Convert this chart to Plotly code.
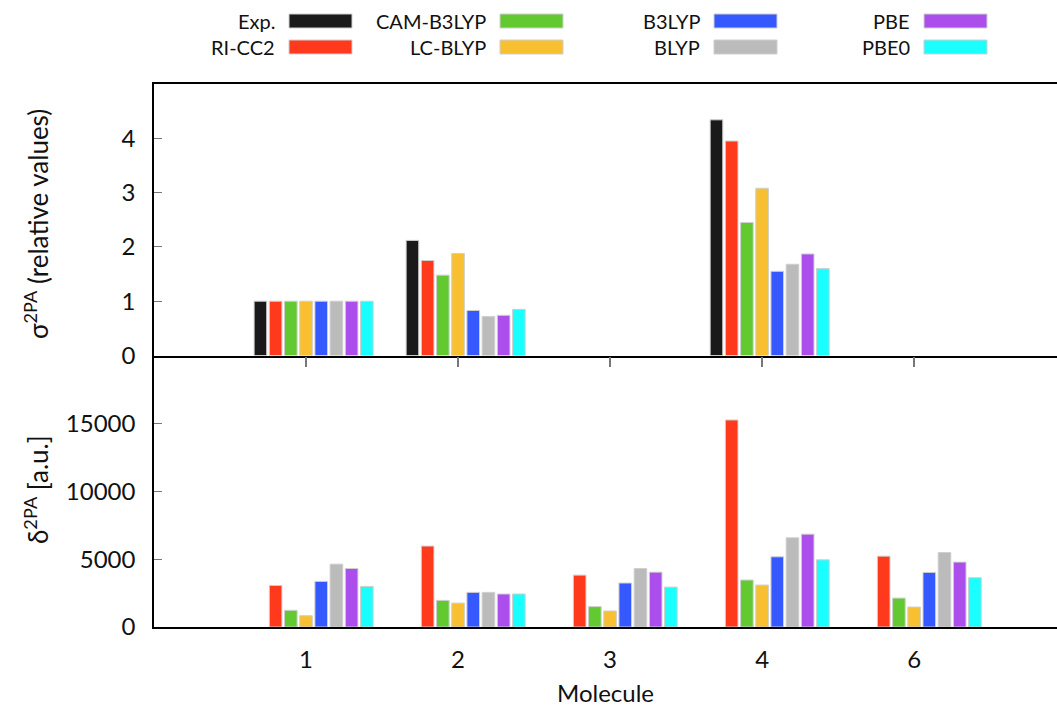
import plotly.graph_objects as go

molecules = ["1", "2", "3", "4", "6"]
series = ["Exp.", "RI-CC2", "CAM-B3LYP", "LC-BLYP", "B3LYP", "BLYP", "PBE", "PBE0"]
colors = ["#1a1a1a", "#ff3a1c", "#62c930", "#f8c030", "#3558ff", "#bbbbbb", "#ac4eec", "#1affff"]

# Upper panel: sigma 2PA relative values (None = no data)
sigma_exp    = [1.0, 2.12, None, 4.34, None]
sigma_ricc2  = [1.0, 1.75, None, 3.95, None]
sigma_camb3  = [1.0, 1.48, None, 2.45, None]
sigma_lcblyp = [1.0, 1.88, None, 3.08, None]
sigma_b3lyp  = [1.0, 0.83, None, 1.55, None]
sigma_blyp   = [1.0, 0.72, None, 1.68, None]
sigma_pbe    = [1.0, 0.74, None, 1.87, None]
sigma_pbe0   = [1.0, 0.85, None, 1.60, None]

# Lower panel: delta 2PA [a.u.]
delta_exp    = [None, None, None, None, None]
delta_ricc2  = [3060, 5960, 3820, 15250, 5220]
delta_camb3  = [1230, 1960, 1500, 3460, 2130]
delta_lcblyp = [830, 1760, 1180, 3090, 1470]
delta_b3lyp  = [3360, 2550, 3240, 5170, 4020]
delta_blyp   = [4630, 2550, 4310, 6570, 5490]
delta_pbe    = [4310, 2430, 4040, 6840, 4780]
delta_pbe0   = [2990, 2430, 2940, 4950, 3630]

sigma_all = [sigma_exp, sigma_ricc2, sigma_camb3, sigma_lcblyp, sigma_b3lyp, sigma_blyp, sigma_pbe, sigma_pbe0]
delta_all = [delta_exp, delta_ricc2, delta_camb3, delta_lcblyp, delta_b3lyp, delta_blyp, delta_pbe, delta_pbe0]

FONT = "Lato"
W, H = 1057, 710
L, R, T, B = 154, 0, 84, 83
pw, ph = W - L - R, H - T - B

def px(x):
    return (x - L) / pw

def py(y):
    return (H - B - y) / ph

xpos = list(range(len(molecules)))
slot = 0.1
bw = 0.083

fig = go.Figure()
for i, name in enumerate(series):
    off = (i - 3) * slot - bw / 2
    fig.add_trace(go.Bar(x=xpos, y=sigma_all[i], name=name, xaxis="x2", yaxis="y2",
                         width=bw, offset=off, marker=dict(color=colors[i], line=dict(color="#cfcfcf", width=1)),
                         showlegend=False, hoverinfo="skip"))
    fig.add_trace(go.Bar(x=xpos, y=delta_all[i], name=name, xaxis="x", yaxis="y",
                         width=bw, offset=off, marker=dict(color=colors[i], line=dict(color="#cfcfcf", width=1)),
                         showlegend=False, hoverinfo="skip"))

tickfont = dict(family=FONT, size=24, color="#111")
split = 0.5

fig.update_layout(
    width=W, height=H, margin=dict(l=L, r=R, t=T, b=B, autoexpand=False),
    paper_bgcolor="white", plot_bgcolor="white", barmode="overlay",
    font=dict(family=FONT, color="#111"),
    xaxis=dict(domain=[0, 1], anchor="y", range=[-1, 4.94], tickvals=xpos, ticktext=molecules,
               showline=True, linecolor="black", linewidth=1.5, ticks="outside", ticklen=10,
               tickcolor="rgba(0,0,0,0)", showgrid=False, zeroline=False,
               tickfont=tickfont, title=dict(text="Molecule", font=dict(family=FONT, size=24), standoff=14)),
    xaxis2=dict(domain=[0, 1], anchor="y2", matches="x", range=[-1, 4.94], tickvals=xpos, showticklabels=False,
                showline=True, mirror=True, linecolor="black", linewidth=1.5, ticks="outside", ticklen=10,
                tickcolor="#777", tickwidth=1.5, showgrid=False, zeroline=False),
    yaxis=dict(domain=[0, split], anchor="x", range=[0, 20000], tickvals=[0, 5000, 10000, 15000],
               tickformat="d", ticklabelstandoff=12,
               showline=True, linecolor="black", linewidth=1.5, ticks="inside", ticklen=8, tickcolor="#777",
               showgrid=False, zeroline=False, tickfont=tickfont),
    yaxis2=dict(domain=[split, 1], anchor="x2", range=[0, 5], tickvals=[0, 1, 2, 3, 4],
                ticklabelstandoff=12,
                showline=True, linecolor="black", linewidth=1.5, ticks="inside", ticklen=8, tickcolor="#777",
                showgrid=False, zeroline=False, tickfont=tickfont),
)

annotations = [
    dict(text="σ<sup>2PA</sup> (relative values)", x=px(36), y=py(224), xref="paper", yref="paper",
         xanchor="center", yanchor="middle",
         textangle=-90, showarrow=False, font=dict(family=FONT, size=26, color="#111")),
    dict(text="δ<sup>2PA</sup> [a.u.]", x=px(36), y=py(490), xref="paper", yref="paper",
         xanchor="center", yanchor="middle",
         textangle=-90, showarrow=False, font=dict(family=FONT, size=26, color="#111")),
]
shapes = []
col_x = [289, 500, 714, 924]
row_y = [21, 47]
for i, name in enumerate(series):
    c, r = i // 2, i % 2
    x0 = col_x[c]
    yc = row_y[r]
    shapes.append(dict(type="rect", xref="paper", yref="paper", x0=px(x0), x1=px(x0 + 63),
                       y0=py(yc + 7), y1=py(yc - 7), fillcolor=colors[i], line=dict(color="#cfcfcf", width=1)))
    annotations.append(dict(text=name, x=px(x0 - 12), y=py(yc), xref="paper", yref="paper",
                            xanchor="right", yanchor="middle", showarrow=False,
                            font=dict(family=FONT, size=20, color="#111")))
fig.update_layout(annotations=annotations, shapes=shapes)

fig.write_html("out.html", config={"displayModeBar": False},
               post_script="document.body.style.margin='0';document.body.style.overflow='hidden';")
